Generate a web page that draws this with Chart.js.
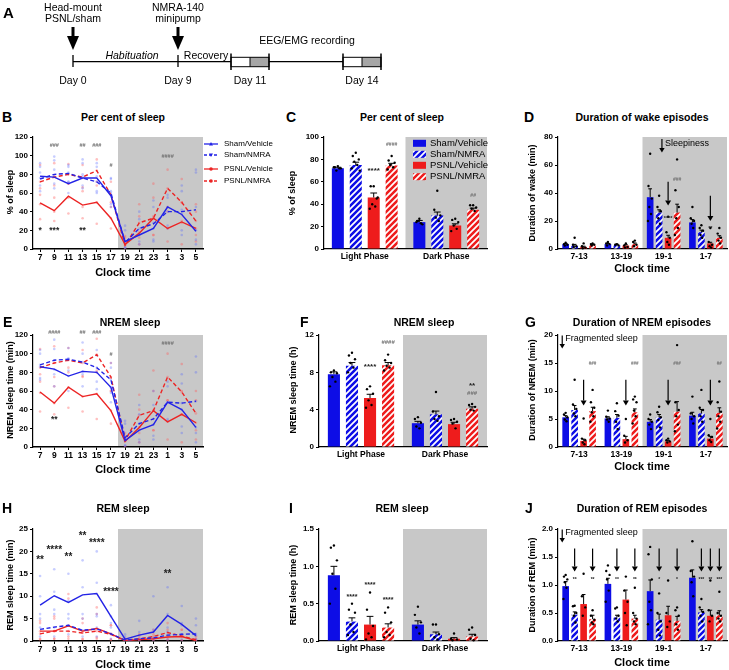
<!DOCTYPE html>
<html>
<head>
<meta charset="utf-8">
<script src="https://cdn.jsdelivr.net/npm/chart.js"></script>
<style>
body { margin: 0; background: #fff; }
#fig { position: relative; width: 729px; height: 670px; overflow: hidden; font-family: Arial, "Liberation Sans", sans-serif; }
#fig canvas { position: absolute; }
.t { position: absolute; white-space: nowrap; transform: translate(-50%, -50%); color: #000; line-height: 1; }
</style>
</head>
<body>
<div id="fig"></div>
<script>
// ---- categories ----
const clockLabels = ['7', '9', '11', '13', '15', '17', '19', '21', '23', '1', '3', '5'];
const phaseLabels = ['Light Phase', 'Dark Phase'];
const blockLabels = ['7-13', '13-19', '19-1', '1-7'];
const groupNames = ['Sham/Vehicle', 'Sham/NMRA', 'PSNL/Vehicle', 'PSNL/NMRA'];

// ---- B: per cent of sleep (2 h bins) ----
const sleepPctShamVeh = [78, 77, 70, 76, 76, 57, 8, 15, 22, 45, 37, 19];
const sleepPctShamNmra = [75, 80, 81, 76, 72, 60, 7, 22, 27, 40, 40, 42];
const sleepPctPsnlVeh = [49.5, 41, 56.5, 47, 50, 33, 5, 17, 33, 22, 29, 22];
const sleepPctPsnlNmra = [72, 77, 80, 77, 84, 58, 4, 28, 33, 65, 50, 30];
const sleepPctDotsShamVeh = [[92,82,68],[95,78,65],[88,72,60],[96,80,65],[92,78,62],[75,60,45],[20,8,2],[32,15,5],[45,22,8],[58,45,25],[62,38,15],[85,20,5]];
const sleepPctDotsShamNmra = [[88,76,62],[99,85,70],[90,82,72],[92,78,68],[88,72,60],[76,62,48],[25,6,1],[40,22,8],[52,28,10],[55,40,22],[68,42,20],[82,45,10]];
const sleepPctDotsPsnlVeh = [[65,48,32],[55,40,30],[70,55,38],[62,45,33],[68,50,27],[50,33,22],[14,5,0],[35,18,5],[55,33,15],[40,22,8],[50,28,5],[40,22,8]];
const sleepPctDotsPsnlNmra = [[90,72,58],[92,78,68],[91,80,70],[90,76,66],[96,84,72],[72,58,45],[12,4,0],[48,28,12],[70,35,15],[85,65,45],[75,50,30],[48,30,15]];
const sleepPctMarks = [
  {x: '9', y: 111, t: '###'}, {x: '13', y: 111, t: '##'}, {x: '15', y: 111, t: '###'},
  {x: '17', y: 89, t: '#'}, {x: '1', y: 99, t: '####'},
  {x: '7', y: 20, t: '*'}, {x: '9', y: 20, t: '***'}, {x: '13', y: 20, t: '**'}
];

// ---- C: per cent of sleep by phase ----
const pctPhaseMeans = [[72, 24], [75, 30], [46, 21], [74.5, 35]];
const pctPhaseSem = [[1, 1.5], [2.5, 3], [4, 1.5], [2, 1.5]];
const pctPhaseDots = [
  [[74, 73, 72, 70, 72, 73], [27, 24, 22, 25, 23]],
  [[86, 83, 80, 78, 75, 72, 70], [52, 35, 30, 28, 25]],
  [[56, 56, 45, 40, 38, 36, 46], [27, 26, 24, 21, 18, 16]],
  [[83, 79, 77, 75, 73, 71], [39, 39, 37, 36, 34]]
];
const pctPhaseMarks = [{c: 0, g: 2, y: 70, t: '****'}, {c: 0, g: 3, y: 93.5, t: '####'}, {c: 1, g: 3, y: 48, t: '##'}];

// ---- D: duration of wake episodes ----
const wakeDurMeans = [[3.5, 3.5, 37, 19], [2.5, 3, 26, 12], [1.5, 2.5, 8, 4], [3, 3.5, 26, 8]];
const wakeDurSem = [[0.5, 0.5, 6, 2], [0.8, 0.4, 2, 1.5], [0.5, 0.6, 1.8, 0.8], [0.4, 0.8, 6, 1.5]];
const wakeDurDots = [
  [[4.5, 3.5, 3, 2.5], [5, 4, 3.5, 2.5], [68, 45, 36, 30, 25, 20], [30, 22, 20, 18, 15]],
  [[8, 3, 2, 1.5], [3.5, 3, 2.5], [38, 30, 27, 22, 18], [17, 15, 13, 10, 8]],
  [[4, 2, 1, 0.5], [4, 2.5, 1.5, 1], [23, 12, 8, 5, 3], [15, 5, 3, 2, 1]],
  [[4, 3.5, 3, 2.5], [6, 5, 3, 2], [64, 42, 30, 22, 15, 10], [15, 11, 8, 6, 4]]
];
const wakeDurMarks = [{c: 2, g: 3, y: 49.5, t: '###'}, {c: 2, g: 2, y: 22, t: '****'}, {c: 3, g: 2, y: 15, t: '**'}];
const wakeDurArrows = [{c: 2, g: 2, from: 48, to: 31}, {c: 3, g: 2, from: 38, to: 20}];

// ---- E: NREM sleep time (min) ----
const nremMinShamVeh = [86, 83.5, 76, 81, 80, 64, 7, 18, 24, 48, 40, 21];
const nremMinShamNmra = [88, 93, 94, 91, 85, 72, 10, 25, 30, 48, 47, 49];
const nremMinPsnlVeh = [59, 47, 64, 54, 57, 39, 6, 21, 39, 27, 35, 26];
const nremMinPsnlNmra = [85, 90, 93, 90, 99, 75, 7, 34, 39, 75, 59, 36];
const nremDotsShamVeh = [[100,86,72],[105,83,65],[95,76,60],[100,81,65],[98,80,62],[85,64,48],[25,7,1],[35,18,5],[45,24,8],[65,48,28],[68,40,15],[97,21,5]];
const nremDotsShamNmra = [[104,88,74],[115,93,78],[106,94,82],[112,91,78],[104,85,70],[90,72,58],[28,10,2],[45,25,8],[60,30,12],[70,48,30],[78,47,22],[80,49,15]];
const nremDotsPsnlVeh = [[78,58,38],[65,47,35],[85,64,42],[75,54,38],[80,57,30],[60,39,25],[15,6,0],[40,21,5],[60,39,18],[50,27,8],[60,35,5],[50,26,8]];
const nremDotsPsnlNmra = [[105,85,70],[108,90,75],[106,93,80],[104,90,76],[116,99,82],[90,75,60],[12,7,0],[56,34,15],[82,39,18],[100,75,50],[89,59,35],[60,36,18]];
const nremMinMarks = [
  {x: '9', y: 123, t: '####'}, {x: '13', y: 123, t: '##'}, {x: '15', y: 123, t: '###'},
  {x: '17', y: 99, t: '#'}, {x: '1', y: 111, t: '####'}, {x: '9', y: 29, t: '**'}
];

// ---- F: NREM sleep time (h) by phase ----
const nremPhaseMeans = [[7.8, 2.55], [8.7, 3.5], [5.25, 2.45], [8.75, 4.1]];
const nremPhaseSem = [[0.25, 0.2], [0.35, 0.35], [0.4, 0.2], [0.3, 0.2]];
const nremPhaseDots = [
  [[8.2, 8.0, 7.9, 7.5, 7.0, 6.5], [3.2, 3.0, 2.6, 2.2, 2.0]],
  [[10.1, 9.8, 9.4, 9.0, 8.5, 8.0], [5.9, 3.8, 3.3, 3.0, 2.8]],
  [[6.5, 6.2, 5.7, 5.0, 4.5, 4.2], [3.0, 2.9, 2.7, 2.5, 2.0]],
  [[9.9, 9.3, 9.0, 8.7, 8.5, 8.2], [4.6, 4.5, 4.3, 4.0, 3.9]]
];
const nremPhaseMarks = [{c: 0, g: 2, y: 8.6, t: '****'}, {c: 0, g: 3, y: 11.2, t: '####'}, {c: 1, g: 3, y: 6.6, t: '**'}, {c: 1, g: 3, y: 5.7, t: '###'}];

// ---- G: duration of NREM episodes ----
const nremDurMeans = [[5.3, 5.1, 4.5, 5.6], [6.6, 5.2, 5.3, 6.0], [1.1, 1.4, 1.0, 1.5], [6.4, 6.2, 6.3, 6.1]];
const nremDurSem = [[0.3, 0.3, 0.4, 0.6], [0.8, 0.6, 0.5, 0.7], [0.3, 0.5, 0.2, 0.4], [0.7, 0.6, 1.8, 0.9]];
const nremDurDots = [
  [[6.1, 5.8, 5.3, 4.9, 4.6], [6.5, 5.4, 5.1, 4.9, 4.5], [5.8, 5.0, 4.5, 4.0, 3.2], [9.0, 6.0, 5.5, 5.0, 4.2]],
  [[12, 7.6, 6.8, 6.0, 5.5], [7.8, 6.4, 5.6, 4.5, 3.2], [7.2, 6.2, 5.3, 4.8, 3.5], [10.2, 7.0, 6.6, 5.5, 4.5]],
  [[5.1, 1.5, 1.2, 0.8, 0.5], [5.0, 2.0, 1.2, 0.8], [1.5, 1.2, 1.0, 0.8], [5.0, 2.1, 1.8, 1.2, 0.9]],
  [[10.2, 8.0, 7.0, 6.2, 5.5, 4.5], [9.0, 8.5, 8.0, 6.5, 5.5, 4.2], [18.2, 8.0, 6.6, 5.5, 4.0, 2.8], [11.7, 8.0, 6.3, 5.5, 4.5, 3.3]]
];
const nremDurMarks = [{c: 0, g: 3, y: 14.9, t: '###'}, {c: 1, g: 3, y: 14.9, t: '###'}, {c: 2, g: 3, y: 14.9, t: '###'}, {c: 3, g: 3, y: 14.9, t: '##'}];
const nremDurArrows = [{c: 0, g: 2, from: 12, to: 7.4}, {c: 1, g: 2, from: 12, to: 7.4}, {c: 2, g: 2, from: 12, to: 7.4}, {c: 3, g: 2, from: 12, to: 7.4}];

// ---- H: REM sleep time (min) ----
const remMinShamVeh = [8, 10.1, 8.6, 10.3, 10.6, 5.5, 0.4, 1.3, 2, 5.7, 3.7, 1.2];
const remMinShamNmra = [2.6, 3.1, 3.5, 2.4, 2.7, 1.6, 0.2, 0.5, 0.7, 1.3, 1.5, 1.6];
const remMinPsnlVeh = [2.2, 2.2, 3.4, 2.2, 2.8, 1.6, 0.1, 0.3, 0.5, 0.9, 1.0, 0.1];
const remMinPsnlNmra = [1.6, 2.2, 2.2, 1.8, 2.2, 1.5, 0.1, 0.5, 1.0, 1.9, 1.1, 0.3];
const remDotsShamVeh = [[14.5,10,5],[16,11,6],[15,9,5],[18,12,6],[20,13,6],[8,5.5,3],[1.5,0.4,0],[4.5,1.3,0],[10,2,0.5],[12,6,2],[7.8,4,1.5],[5,1.2,0.2]];
const remDotsShamNmra = [[6,3,1],[7,3,1],[6,3.5,1.5],[5,2.4,1],[5.5,3,1],[4,1.6,0.5],[1,0.2,0],[2,0.5,0],[2.5,0.7,0],[3,1.3,0.3],[3.5,1.5,0.3],[3.5,1.6,0.4]];
const remDotsPsnlVeh = [[4.5,2.2,0.5],[5.5,2.2,0.5],[10.5,3.4,1],[5,2.2,0.5],[7.5,2.8,0.8],[3.5,1.6,0.3],[0.5,0.1,0],[1,0.3,0],[1.5,0.5,0],[2.5,0.9,0],[2.5,1,0],[0.5,0.1,0]];
const remDotsPsnlNmra = [[4,1.6,0.3],[5,2.2,0.5],[9.5,2.2,0.5],[4,1.8,0.4],[6,2.2,0.5],[3.5,1.5,0.3],[0.5,0.1,0],[1.5,0.5,0],[2.5,1,0],[4,1.9,0.4],[2.5,1.1,0.2],[1,0.3,0]];
const remMinMarks = [
  {x: '7', y: 18, t: '**'}, {x: '9', y: 20.3, t: '****'}, {x: '11', y: 18.8, t: '**'},
  {x: '13', y: 23.4, t: '**'}, {x: '15', y: 21.9, t: '****'}, {x: '17', y: 10.8, t: '****'}, {x: '1', y: 15, t: '**'}
];

// ---- I: REM sleep time (h) by phase ----
const remPhaseMeans = [[0.88, 0.22], [0.26, 0.09], [0.22, 0.03], [0.18, 0.06]];
const remPhaseSem = [[0.12, 0.05], [0.05, 0.03], [0.11, 0.015], [0.05, 0.03]];
const remPhaseDots = [
  [[1.28, 1.25, 1.08, 0.9, 0.7, 0.5], [0.46, 0.35, 0.25, 0.18, 0.1]],
  [[0.5, 0.42, 0.38, 0.22, 0.12, 0.08], [0.22, 0.22, 0.09, 0.05, 0.02]],
  [[0.65, 0.42, 0.2, 0.1, 0.05, 0.02], [0.1, 0.03, 0.02, 0.01]],
  [[0.45, 0.38, 0.25, 0.12, 0.08, 0.05], [0.18, 0.15, 0.08, 0.03, 0.01]]
];
const remPhaseMarks = [{c: 0, g: 1, y: 0.59, t: '****'}, {c: 0, g: 2, y: 0.75, t: '****'}, {c: 0, g: 3, y: 0.55, t: '****'}];

// ---- J: duration of REM episodes ----
const remDurMeans = [[0.98, 1.02, 0.89, 1.13], [0.47, 0.42, 0.38, 0.51], [0.66, 0.74, 0.46, 0.45], [0.39, 0.40, 0.36, 0.46]];
const remDurSem = [[0.08, 0.1, 0.2, 0.14], [0.05, 0.04, 0.1, 0.05], [0.17, 0.17, 0.16, 0.1], [0.07, 0.06, 0.08, 0.08]];
const remDurDots = [
  [[1.18, 1.15, 1.1, 1.05, 0.95, 0.75], [1.35, 1.25, 1.18, 1.1, 0.9, 0.7], [1.68, 1.55, 1.1, 0.7, 0.55, 0.3], [1.78, 1.25, 1.15, 1.05, 0.8]],
  [[0.63, 0.62, 0.5, 0.45, 0.33], [0.6, 0.58, 0.45, 0.4, 0.35], [0.85, 0.5, 0.35, 0.2, 0.1], [0.75, 0.6, 0.52, 0.45, 0.35]],
  [[1.2, 0.8, 0.6, 0.45], [1.15, 0.9, 0.7, 0.5, 0.28], [1.08, 0.5, 0.35, 0.25], [1.08, 0.55, 0.45, 0.35]],
  [[0.55, 0.45, 0.38, 0.33, 0.3], [0.95, 0.5, 0.4, 0.35, 0.3], [0.6, 0.55, 0.45, 0.3, 0.2], [0.88, 0.5, 0.45, 0.4, 0.35]]
];
const remDurMarks = [
  {c: 0, g: 1, y: 1.1, t: '**'}, {c: 0, g: 3, y: 1.1, t: '**'}, {c: 1, g: 1, y: 1.1, t: '**'}, {c: 1, g: 3, y: 1.1, t: '**'},
  {c: 2, g: 1, y: 1.1, t: '*'}, {c: 2, g: 3, y: 1.1, t: '*'}, {c: 3, g: 1, y: 1.1, t: '***'}, {c: 3, g: 2, y: 1.1, t: '**'}, {c: 3, g: 3, y: 1.1, t: '***'}
];
const remDurArrows = [
  {c: 0, g: 1, from: 1.65, to: 1.24}, {c: 0, g: 3, from: 1.65, to: 1.24}, {c: 1, g: 1, from: 1.65, to: 1.24}, {c: 1, g: 3, from: 1.65, to: 1.24},
  {c: 2, g: 1, from: 1.65, to: 1.24}, {c: 2, g: 3, from: 1.65, to: 1.24}, {c: 3, g: 1, from: 1.65, to: 1.24}, {c: 3, g: 2, from: 1.65, to: 1.24}, {c: 3, g: 3, from: 1.65, to: 1.24}
];

// ---- A: protocol timeline (schematic positions) ----
const dayLabels = ['Day 0', 'Day 9', 'Day 11', 'Day 14'];
const dayPos = [73, 178, 250, 362];
const recordings = [[231, 269], [343, 381]];

// ---- styling ----
Chart.defaults.animation = false;
Chart.defaults.responsive = false;
Chart.defaults.events = [];
Chart.defaults.font.family = 'Arial, "Liberation Sans", sans-serif';
Chart.defaults.color = '#000';
Chart.defaults.plugins.legend.display = false;
Chart.defaults.plugins.tooltip.enabled = false;

const BLUE = '#0d0de6';
const RED = '#ee1c1c';
const LINE_COLORS = ['#2323e6', '#2323e6', '#ec2424', '#ec2424'];
const FAINT = ['rgba(80,100,255,0.32)', 'rgba(80,100,255,0.32)', 'rgba(255,90,90,0.38)', 'rgba(255,90,90,0.38)'];
const BAND = '#c8c8c8';
const JITTER = [0, -3, 3, -1.5, 1.5, -4, 4, 0.8];
const FONT = 'Arial, "Liberation Sans", sans-serif';

const fig = document.getElementById('fig');

function makeCanvas(box) {
    const c = document.createElement('canvas');
    c.width = box.w;
    c.height = box.h;
    c.style.left = box.x + 'px';
    c.style.top = box.y + 'px';
    c.style.width = box.w + 'px';
    c.style.height = box.h + 'px';
    fig.appendChild(c);
    return c;
}

function label(text, x, y, css) {
    const d = document.createElement('div');
    d.className = 't';
    d.textContent = text;
    d.style.left = x + 'px';
    d.style.top = y + 'px';
    if (css) d.style.cssText += css;
    fig.appendChild(d);
}

function hatch(ctx, color) {
    const c = document.createElement('canvas');
    c.width = c.height = 6;
    const g = c.getContext('2d');
    g.fillStyle = color;
    g.fillRect(0, 0, 6, 6);
    g.strokeStyle = '#fff';
    g.lineWidth = 1.7;
    g.beginPath();
    g.moveTo(-1, 1); g.lineTo(1, -1);
    g.moveTo(0, 6); g.lineTo(6, 0);
    g.moveTo(5, 7); g.lineTo(7, 5);
    g.stroke();
    return ctx.createPattern(c, 'repeat');
}

// nudge layout padding until the plot area sits on the target rectangle
function fitArea(chart, box, area) {
    for (let k = 0; k < 4; k++) {
        const ca = chart.chartArea;
        const p = chart.config.options.layout.padding;
        const dl = area.l - box.x - ca.left, dt = area.t - box.y - ca.top;
        const dr = area.r - box.x - ca.right, db = area.b - box.y - ca.bottom;
        if (Math.abs(dl) + Math.abs(dt) + Math.abs(dr) + Math.abs(db) < 0.3) break;
        chart.config.options.layout.padding = {left: p.left + dl, top: p.top + dt, right: p.right - dr, bottom: p.bottom - db};
        chart.update();
    }
}

function startPadding(box, area) {
    return {left: area.l - box.x - 20, top: area.t - box.y, right: box.x + box.w - area.r, bottom: box.y + box.h - area.b - 14};
}

function yAxis(max, step, fmt) {
    return {
        min: 0, max: max,
        ticks: {stepSize: step, font: {size: 8, weight: 'bold'}, color: '#000', padding: 2, callback: fmt || (v => v)},
        grid: {drawOnChartArea: false, drawTicks: true, tickLength: 3, color: '#000', lineWidth: 1},
        border: {color: '#000', width: 1.2}
    };
}

function drawText(ctx, text, x, y, size, color, align) {
    ctx.save();
    ctx.font = 'bold ' + size + 'px ' + FONT;
    ctx.fillStyle = color;
    ctx.textAlign = align || 'center';
    ctx.textBaseline = 'middle';
    ctx.fillText(text, x, y);
    ctx.restore();
}

function drawArrow(ctx, x, y1, y2, head) {
    ctx.save();
    ctx.strokeStyle = '#000';
    ctx.fillStyle = '#000';
    ctx.lineWidth = 1.2;
    ctx.beginPath();
    ctx.moveTo(x, y1);
    ctx.lineTo(x, y2 - head);
    ctx.stroke();
    ctx.beginPath();
    ctx.moveTo(x - head * 0.6, y2 - head);
    ctx.lineTo(x + head * 0.6, y2 - head);
    ctx.lineTo(x, y2);
    ctx.closePath();
    ctx.fill();
    ctx.restore();
}

function bandFrom(chart, from) {
    const {ctx, chartArea: a, scales: {x}} = chart;
    const x0 = x.getPixelForValue(from);
    ctx.save();
    ctx.fillStyle = BAND;
    ctx.fillRect(x0, a.top, a.right - x0, a.bottom - a.top);
    ctx.restore();
}

function markColor(t) {
    return t.charAt(0) === '#' ? '#6e6e6e' : '#222';
}

// ---- line chart panels (B, E, H) ----
function lineLegend(chart) {
    const {ctx, chartArea: a} = chart;
    const rows = [7, 18, 32, 44];
    ctx.save();
    groupNames.forEach((name, i) => {
        const y = a.top + rows[i];
        ctx.strokeStyle = LINE_COLORS[i];
        ctx.lineWidth = 1.3;
        ctx.setLineDash(i % 2 ? [3, 2] : []);
        ctx.beginPath();
        ctx.moveTo(a.right + 1, y);
        ctx.lineTo(a.right + 15, y);
        ctx.stroke();
        ctx.setLineDash([]);
        ctx.fillStyle = LINE_COLORS[i];
        ctx.beginPath();
        if (i < 2) {
            const s = i === 0 ? -1 : 1;
            ctx.moveTo(a.right + 8, y + 2 * s);
            ctx.lineTo(a.right + 6, y - 1.5 * s);
            ctx.lineTo(a.right + 10, y - 1.5 * s);
        } else {
            ctx.arc(a.right + 8, y, 1.8, 0, Math.PI * 2);
        }
        ctx.fill();
        ctx.fillStyle = '#000';
        ctx.font = '8px ' + FONT;
        ctx.textAlign = 'left';
        ctx.textBaseline = 'middle';
        ctx.fillText(name, a.right + 21, y);
    });
    ctx.restore();
}

function linePanel(box, area, means, spread, yMax, yStep, marks, starSize, withLegend) {
    const canvas = makeCanvas(box);
    const datasets = [];
    spread.forEach((grp, i) => {
        const pts = [];
        grp.forEach((vals, j) => vals.forEach(v => pts.push({x: clockLabels[j], y: v})));
        datasets.push({label: groupNames[i] + ' animals', data: pts, showLine: false, pointRadius: 1.3,
            pointBorderWidth: 0, pointBackgroundColor: FAINT[i], order: 2});
    });
    means.forEach((m, i) => {
        datasets.push({label: groupNames[i], data: m, borderColor: LINE_COLORS[i], borderWidth: 1.4,
            borderDash: i % 2 ? [4, 2.5] : [], pointRadius: 0, tension: 0, order: 1});
    });
    const extras = {
        id: 'extras',
        beforeDraw(chart) { bandFrom(chart, 5.5); },
        afterDraw(chart) {
            const {ctx, scales: {x, y}} = chart;
            marks.forEach(m => {
                const isHash = m.t.charAt(0) === '#';
                drawText(ctx, m.t, x.getPixelForValue(clockLabels.indexOf(m.x)), y.getPixelForValue(m.y),
                    isHash ? 5.5 : starSize, markColor(m.t));
            });
            if (withLegend) lineLegend(chart);
        }
    };
    const chart = new Chart(canvas, {
        type: 'line',
        data: {labels: clockLabels, datasets: datasets},
        options: {
            layout: {padding: startPadding(box, area)},
            scales: {
                x: {
                    offset: true,
                    ticks: {font: {size: 8.5, weight: 'bold'}, color: '#000', padding: 1, maxRotation: 0, autoSkip: false},
                    grid: {drawOnChartArea: false, tickLength: 3, color: '#000'},
                    border: {color: '#000', width: 1.5}
                },
                y: yAxis(yMax, yStep)
            }
        },
        plugins: [extras]
    });
    fitArea(chart, box, area);
    return chart;
}

// ---- bar chart panels (C, D, F, G, I, J) ----
function barLegend(chart) {
    const {ctx, chartArea: a} = chart;
    const rows = [6.3, 17.3, 28.3, 39.7];
    ctx.save();
    chart.data.datasets.forEach((ds, i) => {
        const y = a.top + rows[i];
        ctx.fillStyle = ds.backgroundColor;
        ctx.fillRect(a.right - 74, y - 3.5, 13, 7);
        ctx.fillStyle = '#000';
        ctx.font = '9.5px ' + FONT;
        ctx.textAlign = 'left';
        ctx.textBaseline = 'middle';
        ctx.fillText(ds.label, a.right - 57, y);
    });
    ctx.restore();
}

function barPanel(box, area, spec) {
    const canvas = makeCanvas(box);
    const ctx = canvas.getContext('2d');
    const fills = [BLUE, hatch(ctx, BLUE), RED, hatch(ctx, RED)];
    const datasets = spec.means.map((m, i) => ({
        label: groupNames[i], data: m, backgroundColor: fills[i], borderWidth: 0,
        categoryPercentage: spec.catPct, barPercentage: spec.barPct,
        sem: spec.sem[i], dots: spec.dots[i]
    }));
    const extras = {
        id: 'extras',
        beforeDraw(chart) { bandFrom(chart, spec.band); },
        afterDatasetsDraw(chart) {
            const {ctx, scales: {x, y}} = chart;
            ctx.save();
            chart.data.datasets.forEach((ds, i) => {
                chart.getDatasetMeta(i).data.forEach((bar, j) => {
                    ctx.fillStyle = '#000';
                    ds.dots[j].forEach((v, k) => {
                        ctx.beginPath();
                        ctx.arc(bar.x + JITTER[k % JITTER.length] * bar.width / 12, y.getPixelForValue(v), 1.2, 0, Math.PI * 2);
                        ctx.fill();
                    });
                    const top = y.getPixelForValue(ds.data[j] + ds.sem[j]);
                    ctx.strokeStyle = '#000';
                    ctx.lineWidth = 1;
                    ctx.beginPath();
                    ctx.moveTo(bar.x, bar.y);
                    ctx.lineTo(bar.x, top);
                    ctx.moveTo(bar.x - bar.width * 0.28, top);
                    ctx.lineTo(bar.x + bar.width * 0.28, top);
                    ctx.stroke();
                });
            });
            ctx.restore();
            (spec.marks || []).forEach(m => {
                const bar = chart.getDatasetMeta(m.g).data[m.c];
                const isHash = m.t.charAt(0) === '#';
                drawText(ctx, m.t, bar.x, y.getPixelForValue(m.y), isHash ? spec.hashSize : spec.starSize, markColor(m.t));
            });
            (spec.arrows || []).forEach(r => {
                const bar = chart.getDatasetMeta(r.g).data[r.c];
                drawArrow(ctx, bar.x, y.getPixelForValue(r.from), y.getPixelForValue(r.to), 5);
            });
            if (spec.note) {
                const n = spec.note;
                const nx = x.getPixelForValue(n.x);
                drawArrow(ctx, nx, y.getPixelForValue(n.from), y.getPixelForValue(n.to), 4.5);
                ctx.save();
                ctx.font = '9px ' + FONT;
                ctx.fillStyle = '#000';
                ctx.textAlign = 'left';
                ctx.textBaseline = 'middle';
                ctx.fillText(n.text, nx + 3, y.getPixelForValue(n.ty));
                ctx.restore();
            }
            if (spec.legend) barLegend(chart);
        }
    };
    const chart = new Chart(canvas, {
        type: 'bar',
        data: {labels: spec.labels, datasets: datasets},
        options: {
            layout: {padding: startPadding(box, area)},
            scales: {
                x: {
                    ticks: {font: {size: spec.catFont, weight: 'bold'}, color: '#000', padding: 3, maxRotation: 0, autoSkip: false},
                    grid: {display: false, drawTicks: false, tickLength: 0},
                    border: {color: '#000', width: 1.3}
                },
                y: yAxis(spec.yMax, spec.yStep, spec.fmt)
            }
        },
        plugins: [extras]
    });
    fitArea(chart, box, area);
    return chart;
}

// ---- panel A: timeline ----
function timelinePanel() {
    const box = {x: 0, y: 0, w: 480, h: 100};
    const canvas = makeCanvas(box);
    const draw = {
        id: 'timeline',
        afterDraw(chart) {
            const {ctx, scales: {x, y}} = chart;
            const ly = y.getPixelForValue(61.7);
            ctx.save();
            ctx.strokeStyle = '#000';
            ctx.lineWidth = 1.3;
            ctx.beginPath();
            ctx.moveTo(x.getPixelForValue(dayPos[0]), ly);
            ctx.lineTo(x.getPixelForValue(recordings[0][0]), ly);
            ctx.moveTo(x.getPixelForValue(recordings[0][1]), ly);
            ctx.lineTo(x.getPixelForValue(recordings[1][0]), ly);
            [dayPos[0], dayPos[1]].forEach(d => {
                ctx.moveTo(x.getPixelForValue(d), y.getPixelForValue(55));
                ctx.lineTo(x.getPixelForValue(d), y.getPixelForValue(67));
            });
            ctx.stroke();
            recordings.forEach(r => {
                const x0 = x.getPixelForValue(r[0]), x1 = x.getPixelForValue(r[1]);
                const xm = (x0 + x1) / 2;
                const top = y.getPixelForValue(57.3), bot = y.getPixelForValue(66.7);
                ctx.fillStyle = '#a6a6a6';
                ctx.fillRect(xm, top, x1 - xm, bot - top);
                ctx.lineWidth = 1;
                ctx.strokeRect(x0, top, x1 - x0, bot - top);
                ctx.beginPath();
                ctx.moveTo(xm, top); ctx.lineTo(xm, bot);
                ctx.stroke();
                ctx.lineWidth = 1.5;
                ctx.beginPath();
                [x0, x1].forEach(px => {
                    ctx.moveTo(px, y.getPixelForValue(53.5));
                    ctx.lineTo(px, y.getPixelForValue(70));
                });
                ctx.stroke();
            });
            [dayPos[0], dayPos[1]].forEach(d => {
                const px = x.getPixelForValue(d);
                ctx.fillStyle = '#000';
                ctx.fillRect(px - 1.5, y.getPixelForValue(27), 3, y.getPixelForValue(37) - y.getPixelForValue(27));
                ctx.beginPath();
                ctx.moveTo(px - 6, y.getPixelForValue(36));
                ctx.lineTo(px + 6, y.getPixelForValue(36));
                ctx.lineTo(px, y.getPixelForValue(50));
                ctx.closePath();
                ctx.fill();
            });
            ctx.restore();
        }
    };
    new Chart(canvas, {
        type: 'scatter',
        data: {datasets: []},
        options: {
            layout: {padding: 0},
            scales: {
                x: {type: 'linear', display: false, min: 0, max: box.w},
                y: {type: 'linear', display: false, min: 0, max: box.h, reverse: true}
            }
        },
        plugins: [draw]
    });
    const f = 'font-size:10.5px;';
    label('A', 3, 12, 'font-size:15px;font-weight:bold;transform:translate(0,-50%);');
    label('Head-mount', 73, 7, f);
    label('PSNL/sham', 73, 18, f);
    label('NMRA-140', 178, 7, f);
    label('minipump', 178, 18, f);
    label('Habituation', 132, 54.5, f + 'font-style:italic;');
    label('Recovery', 206, 54.5, f);
    label('EEG/EMG recording', 307, 40, f);
    dayLabels.forEach((d, i) => label(d, dayPos[i], 79.5, f));
}

// ---- build ----
timelinePanel();

linePanel({x: 0, y: 125, w: 290, h: 160}, {l: 33, t: 137, r: 203, b: 249},
    [sleepPctShamVeh, sleepPctShamNmra, sleepPctPsnlVeh, sleepPctPsnlNmra],
    [sleepPctDotsShamVeh, sleepPctDotsShamNmra, sleepPctDotsPsnlVeh, sleepPctDotsPsnlNmra],
    120, 20, sleepPctMarks, 8.5, true);

barPanel({x: 290, y: 125, w: 200, h: 160}, {l: 324, t: 137, r: 487, b: 249}, {
    labels: phaseLabels, means: pctPhaseMeans, sem: pctPhaseSem, dots: pctPhaseDots,
    yMax: 100, yStep: 20, band: 0.5, catPct: 0.88, barPct: 0.67, catFont: 8.5,
    marks: pctPhaseMarks, hashSize: 5, starSize: 8, legend: true
});

barPanel({x: 535, y: 125, w: 194, h: 160}, {l: 558, t: 137, r: 727, b: 249}, {
    labels: blockLabels, means: wakeDurMeans, sem: wakeDurSem, dots: wakeDurDots,
    yMax: 80, yStep: 20, band: 1.5, catPct: 0.85, barPct: 0.74, catFont: 8.5,
    marks: wakeDurMarks, arrows: wakeDurArrows, hashSize: 5, starSize: 5.5,
    note: {x: 1.96, from: 78.5, to: 69, ty: 75, text: 'Sleepiness'}
});

linePanel({x: 0, y: 324, w: 290, h: 150}, {l: 33, t: 335, r: 203, b: 447},
    [nremMinShamVeh, nremMinShamNmra, nremMinPsnlVeh, nremMinPsnlNmra],
    [nremDotsShamVeh, nremDotsShamNmra, nremDotsPsnlVeh, nremDotsPsnlNmra],
    120, 20, nremMinMarks, 8.5, false);

barPanel({x: 290, y: 324, w: 200, h: 150}, {l: 319, t: 335, r: 487, b: 447}, {
    labels: phaseLabels, means: nremPhaseMeans, sem: nremPhaseSem, dots: nremPhaseDots,
    yMax: 12, yStep: 4, band: 0.5, catPct: 0.86, barPct: 0.67, catFont: 8.5,
    marks: nremPhaseMarks, hashSize: 6, starSize: 8
});

barPanel({x: 535, y: 324, w: 194, h: 150}, {l: 558, t: 335, r: 727, b: 447}, {
    labels: blockLabels, means: nremDurMeans, sem: nremDurSem, dots: nremDurDots,
    yMax: 20, yStep: 5, band: 1.5, catPct: 0.85, barPct: 0.74, catFont: 8.5,
    marks: nremDurMarks, arrows: nremDurArrows, hashSize: 4.5, starSize: 5.5,
    note: {x: -0.4, from: 19.9, to: 17.6, ty: 19.3, text: 'Fragmented sleep'}
});

linePanel({x: 0, y: 515, w: 290, h: 150}, {l: 33, t: 529, r: 203, b: 641},
    [remMinShamVeh, remMinShamNmra, remMinPsnlVeh, remMinPsnlNmra],
    [remDotsShamVeh, remDotsShamNmra, remDotsPsnlVeh, remDotsPsnlNmra],
    25, 5, remMinMarks, 10, false);

barPanel({x: 290, y: 515, w: 200, h: 150}, {l: 319, t: 529, r: 487, b: 641}, {
    labels: phaseLabels, means: remPhaseMeans, sem: remPhaseSem, dots: remPhaseDots,
    yMax: 1.5, yStep: 0.5, band: 0.5, catPct: 0.86, barPct: 0.67, catFont: 8.5,
    fmt: v => v.toFixed(1), marks: remPhaseMarks, hashSize: 5, starSize: 7
});

barPanel({x: 535, y: 515, w: 194, h: 150}, {l: 558, t: 529, r: 727, b: 641}, {
    labels: blockLabels, means: remDurMeans, sem: remDurSem, dots: remDurDots,
    yMax: 2.0, yStep: 0.5, band: 1.5, catPct: 0.85, barPct: 0.74, catFont: 8.5,
    fmt: v => v.toFixed(1), marks: remDurMarks, arrows: remDurArrows, hashSize: 4.5, starSize: 5,
    note: {x: -0.4, from: 1.99, to: 1.76, ty: 1.93, text: 'Fragmented sleep'}
});

// ---- panel letters, titles and axis titles ----
const letterCss = 'font-size:14px;font-weight:bold;transform:translate(0,-50%);';
const titleCss = 'font-size:10.5px;font-weight:bold;';
const yTitleCss = 'font-size:9px;font-weight:bold;transform:translate(-50%,-50%) rotate(-90deg);';
const xTitleCss = 'font-size:11px;font-weight:bold;';

[['B', 2, 117], ['C', 286, 117], ['D', 524, 117], ['E', 3, 322], ['F', 300, 322], ['G', 525, 322],
 ['H', 2, 508], ['I', 289, 508], ['J', 525, 508]].forEach(l => label(l[0], l[1], l[2], letterCss));

[['Per cent of sleep', 123, 117], ['Per cent of sleep', 402, 117], ['Duration of wake episodes', 642, 117],
 ['NREM sleep', 130, 322], ['NREM sleep', 424, 322], ['Duration of NREM episodes', 642, 322],
 ['REM sleep', 123, 508], ['REM sleep', 402, 508], ['Duration of REM episodes', 642, 508]].forEach(t => label(t[0], t[1], t[2], titleCss));

[['% of sleep', 10, 192], ['% of sleep', 292, 193], ['Duration of wake (min)', 532, 193],
 ['NREM sleep time (min)', 10, 390], ['NREM sleep time (h)', 293, 390], ['Duration of NREM (min)', 532, 390],
 ['REM sleep time (min)', 10, 585], ['REM sleep time (h)', 293, 585], ['Duration of REM (min)', 532, 585]].forEach(t => label(t[0], t[1], t[2], yTitleCss));

[['Clock time', 123, 272], ['Clock time', 642, 268], ['Clock time', 123, 469],
 ['Clock time', 642, 466], ['Clock time', 123, 664], ['Clock time', 642, 662]].forEach(t => label(t[0], t[1], t[2], xTitleCss));
</script>
</body>
</html>
